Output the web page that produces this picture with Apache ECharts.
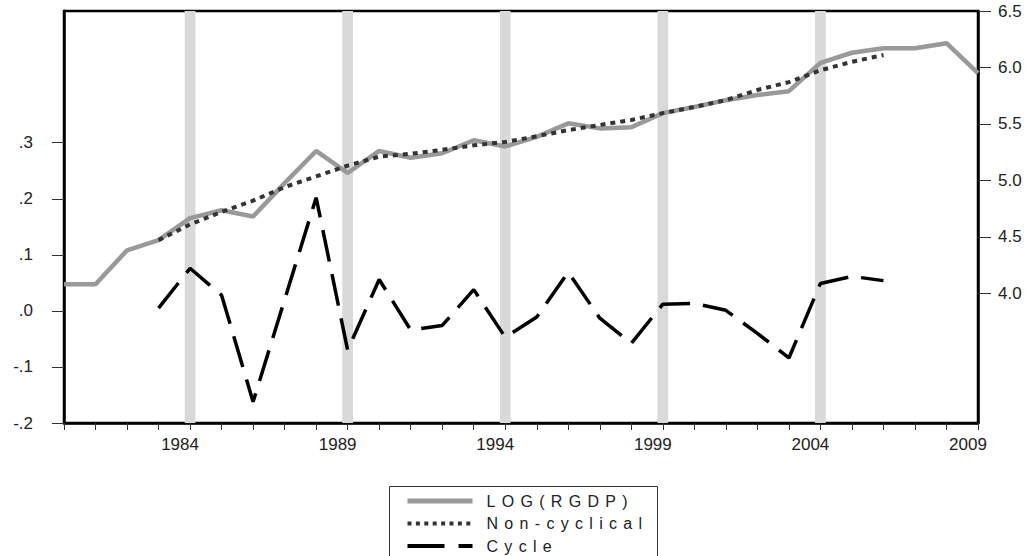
<!DOCTYPE html>
<html>
<head>
<meta charset="utf-8">
<script src="https://cdn.jsdelivr.net/npm/echarts@6/dist/echarts.min.js"></script>
<style>
  html, body { margin: 0; padding: 0; background: #fff; }
  #chart { width: 1029px; height: 556px; }
</style>
</head>
<body>
<div id="chart"></div>
<script>
// ---- data ----
const years = [1980,1981,1982,1983,1984,1985,1986,1987,1988,1989,1990,1991,1992,1993,1994,1995,1996,1997,1998,1999,2000,2001,2002,2003,2004,2005,2006,2007,2008,2009];
const logRgdp = [4.08,4.08,4.38,4.47,4.665,4.735,4.68,4.975,5.26,5.065,5.26,5.20,5.24,5.355,5.30,5.385,5.505,5.46,5.47,5.595,5.65,5.71,5.755,5.79,6.04,6.13,6.17,6.17,6.215,5.95];
const nonCyclical = [null,null,null,4.47,4.61,4.72,4.82,4.94,5.035,5.13,5.21,5.235,5.27,5.31,5.34,5.39,5.445,5.49,5.535,5.595,5.65,5.71,5.80,5.87,5.975,6.05,6.11,null,null,null];
const cycle = [null,null,null,0.005,0.076,0.028,-0.162,0.02,0.202,-0.07,0.056,-0.034,-0.026,0.038,-0.047,-0.011,0.069,-0.013,-0.058,0.012,0.0135,0.001,-0.04,-0.084,0.049,0.0615,0.054,null,null,null];
const bandYears = [1984,1989,1994,1999,2004];
const xLabelValues = [1984,1989,1994,1999,2004,2009];
const leftTickValues = [-0.2,-0.1,0,0.1,0.2,0.3];
const leftTickLabels = ['-.2','-.1','.0','.1','.2','.3'];
const rightTickValues = [4.0,4.5,5.0,5.5,6.0,6.5];
const rightTickLabels = ['4.0','4.5','5.0','5.5','6.0','6.5'];
const seriesNames = ['LOG(RGDP)','Non-cyclical','Cycle'];

const pair = (arr) => years.map((y, i) => [y, arr[i]]);
const font = 'Liberation Sans, Arial, sans-serif';

const chart = echarts.init(document.getElementById('chart'), null, { renderer: 'svg' });
const option = {
  animation: false,
  backgroundColor: '#fff',
  grid: { left: 64, right: 51, top: 11, bottom: 133, show: true, borderColor: '#000', borderWidth: 2.5, backgroundColor: 'transparent' },
  graphic: [{
    type: 'rect', left: 387, top: 484, silent: true,
    shape: { width: 268, height: 80 },
    style: { fill: 'none', stroke: '#333', lineWidth: 1 }
  }],
  legend: {
    data: [
      { name: seriesNames[0], lineStyle: { width: 5, color: '#999999' } },
      { name: seriesNames[1], lineStyle: { width: 4, color: '#333333', type: [4, 4.4] } },
      { name: seriesNames[2], lineStyle: { width: 4, color: '#000000', type: [37, 14] } }
    ],
    orient: 'vertical',
    left: 405, top: 493, height: 120, padding: 0,
    itemWidth: 65, itemHeight: 14, itemGap: 6.5,
    itemStyle: { opacity: 0 },
    textStyle: { fontFamily: font, fontSize: 16, color: '#222', lineHeight: 16, padding: [0, 0, 0, 9] },
    selectedMode: false
  },
  xAxis: {
    type: 'value', min: 1980, max: 2009,
    axisLine: { show: true, onZero: false, lineStyle: { color: '#000', width: 2.5 } },
    axisTick: { show: true, length: 7, lineStyle: { color: '#333', width: 1 }, customValues: years },
    axisLabel: { customValues: xLabelValues, formatter: v => String(v), fontFamily: font, fontSize: 17, color: '#222', margin: 13, padding: [0, 20, 0, 0] },
    splitLine: { show: false }
  },
  yAxis: [{
    type: 'value', min: -0.2, max: 0.535, position: 'left',
    axisLine: { show: true, onZero: false, lineStyle: { color: '#000', width: 2.5 } },
    axisTick: { show: true, length: 12, lineStyle: { color: '#333', width: 1 }, customValues: leftTickValues },
    axisLabel: {
      customValues: leftTickValues,
      formatter: v => { const i = leftTickValues.findIndex(t => Math.abs(t - v) < 1e-6); return i >= 0 ? leftTickLabels[i] : ''; },
      fontFamily: font, fontSize: 17, color: '#222', margin: 31
    },
    splitLine: { show: false }
  }, {
    type: 'value', min: 2.85, max: 6.5, position: 'right',
    axisLine: { show: true, onZero: false, lineStyle: { color: '#000', width: 2.5 } },
    axisTick: { show: true, length: 13, lineStyle: { color: '#333', width: 1 }, customValues: rightTickValues },
    axisLabel: {
      customValues: rightTickValues,
      formatter: v => { const i = rightTickValues.findIndex(t => Math.abs(t - v) < 1e-6); return i >= 0 ? rightTickLabels[i] : ''; },
      fontFamily: font, fontSize: 17, color: '#222', margin: 20
    },
    splitLine: { show: false }
  }],
  series: [{
    name: 'bands', type: 'line', yAxisIndex: 0, data: [], z: 1, silent: true,
    markArea: {
      silent: true,
      itemStyle: { color: '#d9d9d9' },
      data: bandYears.map(y => [{ xAxis: y - 0.17 }, { xAxis: y + 0.17 }])
    }
  }, {
    name: 'LOG(RGDP)', type: 'line', yAxisIndex: 1, data: pair(logRgdp), z: 3,
    symbol: 'none', lineStyle: { color: '#999999', width: 4.5 }, itemStyle: { color: '#999999' }
  }, {
    name: 'Non-cyclical', type: 'line', yAxisIndex: 1, data: pair(nonCyclical), z: 4,
    symbol: 'none', lineStyle: { color: '#333333', width: 4, type: [5, 5] }, itemStyle: { color: '#333333' }
  }, {
    name: 'Cycle', type: 'line', yAxisIndex: 0, data: pair(cycle), z: 5,
    symbol: 'none', lineStyle: { color: '#000000', width: 3.5, type: [32, 13] }, itemStyle: { color: '#000000' }
  }]
};
chart.setOption(option);
function spaceLegend() {
  document.querySelectorAll('#chart svg text').forEach(t => {
    if (seriesNames.includes(t.textContent)) t.style.letterSpacing = '6.3px';
  });
}
spaceLegend();
chart.on('finished', spaceLegend);
</script>
</body>
</html>
